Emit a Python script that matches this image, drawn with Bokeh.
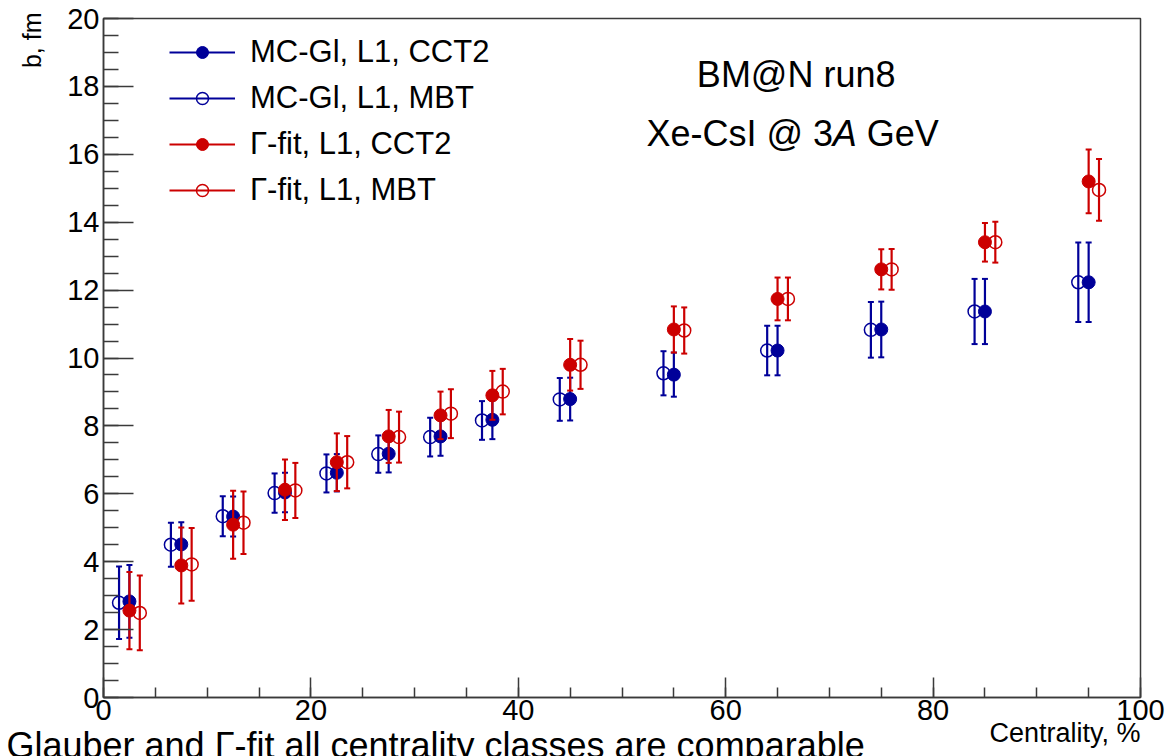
import pandas as pd
from bokeh.plotting import figure
from bokeh.models import (ColumnDataSource, Range1d, SingleIntervalTicker, Legend,
                          LegendItem, Label, Title)
from bokeh.transform import dodge
from bokeh.embed import file_html
from bokeh.resources import INLINE

# ---------------- data ----------------
centrality = [2.5, 7.5, 12.5, 17.5, 22.5, 27.5, 32.5, 37.5, 45, 55, 65, 75, 85, 95]

mcgl_cct2 = [2.83, 4.51, 5.33, 6.04, 6.62, 7.18, 7.69, 8.18, 8.79, 9.51, 10.22, 10.84, 11.37, 12.23]
mcgl_cct2_err = [1.07, 0.65, 0.59, 0.58, 0.55, 0.55, 0.57, 0.57, 0.63, 0.65, 0.73, 0.82, 0.96, 1.17]

mcgl_mbt = [2.79, 4.50, 5.34, 6.02, 6.60, 7.17, 7.67, 8.16, 8.78, 9.55, 10.22, 10.83, 11.37, 12.23]
mcgl_mbt_err = [1.07, 0.65, 0.59, 0.58, 0.56, 0.55, 0.57, 0.57, 0.63, 0.65, 0.73, 0.82, 0.96, 1.17]

gfit_cct2 = [2.56, 3.89, 5.09, 6.12, 6.93, 7.69, 8.31, 8.90, 9.80, 10.84, 11.74, 12.61, 13.41, 15.20]
gfit_cct2_err = [1.14, 1.12, 1.00, 0.89, 0.85, 0.78, 0.70, 0.72, 0.76, 0.68, 0.63, 0.59, 0.57, 0.94]

gfit_mbt = [2.49, 3.92, 5.15, 6.10, 6.93, 7.67, 8.36, 9.01, 9.80, 10.81, 11.74, 12.61, 13.41, 14.95]
gfit_mbt_err = [1.10, 1.07, 0.92, 0.81, 0.77, 0.75, 0.72, 0.67, 0.71, 0.68, 0.63, 0.60, 0.60, 0.91]

labels = ["MC-Gl, L1, CCT2", "MC-Gl, L1, MBT", "\u0393-fit, L1, CCT2", "\u0393-fit, L1, MBT"]
x_ticks_interval = 20
y_ticks_interval = 2

BLUE = "#000099"
RED = "#cc0000"
FONT = "Liberation Sans"
AXC = "#3a3a3a"

p = figure(width=1166, height=756, output_backend="svg", toolbar_location=None,
           x_range=Range1d(0, 100), y_range=Range1d(0, 20),
           min_border_left=101, min_border_right=26, min_border_top=18, min_border_bottom=59)
p.background_fill_color = "white"
p.border_fill_color = "white"
p.grid.visible = False
p.outline_line_color = AXC
p.outline_line_width = 1.5

p.xaxis.ticker = SingleIntervalTicker(interval=x_ticks_interval, num_minor_ticks=4)
p.yaxis.ticker = SingleIntervalTicker(interval=y_ticks_interval, num_minor_ticks=4)
for ax in (p.xaxis, p.yaxis):
    ax.axis_line_color = AXC
    ax.axis_line_width = 1.5
    ax.major_tick_line_color = AXC
    ax.minor_tick_line_color = AXC
    ax.major_tick_line_width = 1.5
    ax.minor_tick_line_width = 1.5
    ax.major_tick_out = 0
    ax.minor_tick_out = 0
    ax.major_label_text_font = FONT
    ax.major_label_text_font_size = "29px"
    ax.major_label_text_color = "black"
p.yaxis.major_tick_in = 30
p.yaxis.minor_tick_in = 15
p.xaxis.major_tick_in = 20
p.xaxis.minor_tick_in = 10
p.yaxis.major_label_standoff = 4
p.xaxis.major_label_standoff = 2

series = [
    (mcgl_mbt, mcgl_mbt_err, -1.0, BLUE, False, 1),
    (mcgl_cct2, mcgl_cct2_err, 0.0, BLUE, True, 0),
    (gfit_cct2, gfit_cct2_err, 0.0, RED, True, 2),
    (gfit_mbt, gfit_mbt_err, 1.0, RED, False, 3),
]

legend_map = {}
for vals, errs, shift, col, filled, li in series:
    df = pd.DataFrame({"x": centrality, "y": vals, "e": errs})
    df["lo"] = df["y"] - df["e"]
    df["hi"] = df["y"] + df["e"]
    src = ColumnDataSource(df)
    xs = dodge("x", shift, range=p.x_range)
    seg = p.segment(x0=xs, y0="lo", x1=xs, y1="hi", source=src,
                    line_color=col, line_width=2.2)
    p.scatter(x=xs, y="lo", source=src, marker="dash", size=6, line_color=col, line_width=2)
    p.scatter(x=xs, y="hi", source=src, marker="dash", size=6, line_color=col, line_width=2)
    if filled:
        pt = p.scatter(x=xs, y="y", source=src, marker="circle", size=13,
                       fill_color=col, line_color=col, line_width=1)
    else:
        pt = p.scatter(x=xs, y="y", source=src, marker="circle", size=13,
                       fill_alpha=0, line_color=col, line_width=1.5)
    legend_map[li] = (seg, pt)

items = [LegendItem(label=labels[i], renderers=list(legend_map[i])) for i in range(4)]
legend = Legend(items=items, location=(66, 489), orientation="vertical",
                glyph_width=66, glyph_height=30, label_height=30, label_standoff=15,
                spacing=10, padding=0, margin=0,
                label_text_font=FONT, label_text_font_size="31px", label_text_color="black",
                background_fill_alpha=0, border_line_alpha=0)
p.add_layout(legend, "center")

# ---- text annotations inside the frame (page px -> data) ----
def dx(cx):
    return (cx - 101) / 10.39

def dy(cy):
    return (697 - cy) / 33.95

p.add_layout(Label(x=dx(795), y=dy(94), text="BM@N run8", text_align="center",
                   text_font=FONT, text_font_size="36px", text_color="black"))

fs = 36
x0 = 645
w1 = 5.183 * fs
p.add_layout(Label(x=dx(x0), y=dy(153), text="Xe-CsI @ 3", text_align="left",
                   text_font=FONT, text_font_size=f"{fs}px", text_color="black"))
p.add_layout(Label(x=dx(x0 + w1), y=dy(153), text="A", text_align="left",
                   text_font=FONT, text_font_style="italic", text_font_size=f"{fs}px",
                   text_color="black"))
p.add_layout(Label(x=dx(x0 + w1 + 0.667 * fs + 0.278 * fs), y=dy(153), text="GeV",
                   text_align="left", text_font=FONT, text_font_size=f"{fs}px",
                   text_color="black"))

# ---- texts outside the frame: side-panel titles ----
p.add_layout(Title(text="b, fm", align="right", vertical_align="top", offset=-6,
                   standoff=34, text_font=FONT, text_font_size="25px",
                   text_font_style="normal", text_color="black"), "left")

p.add_layout(Title(text="Centrality, %", align="right", vertical_align="top", offset=0,
                   standoff=-10, text_font=FONT, text_font_size="27px",
                   text_font_style="normal", text_color="black"), "below")

p.add_layout(Title(text="Glauber and \u0393-fit all centrality classes are comparable",
                   align="left", vertical_align="top", offset=-97, standoff=-40,
                   text_font=FONT, text_font_size="36px", text_font_style="normal",
                   text_color="black"), "below")

open("out.html", "w").write(file_html(p, INLINE))
